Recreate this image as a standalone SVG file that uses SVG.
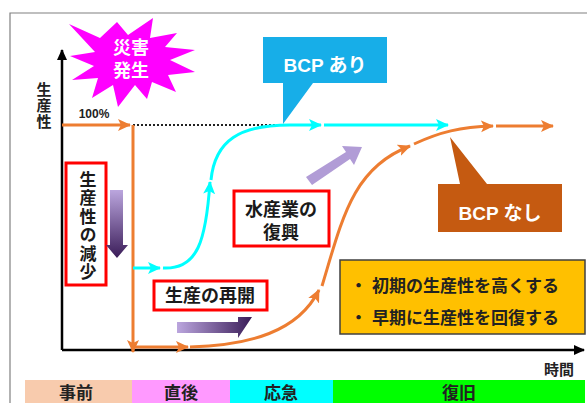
<svg xmlns="http://www.w3.org/2000/svg" width="587" height="403" viewBox="0 0 587 403">
<defs>
<style>
.t{font-family:"Liberation Sans","Noto Sans CJK JP",sans-serif;font-weight:bold;text-anchor:middle}
.lbl{font-size:18px;fill:#1a1a1a}
.v{font-family:"Liberation Sans","Noto Sans CJK JP",sans-serif;font-weight:bold;writing-mode:vertical-rl;text-orientation:upright}
.g{font-family:"Liberation Sans","Noto Sans CJK JP",sans-serif;font-weight:bold;font-size:17px;fill:#222}
.rbox{fill:#fff;stroke:#FF0000;stroke-width:3}
.or{fill:none;stroke:#ED7D31;stroke-width:3}
.cy{fill:none;stroke:#00FFFF;stroke-width:3}
</style>
<marker id="ao" markerUnits="userSpaceOnUse" markerWidth="14" markerHeight="14" refX="12" refY="7" orient="auto"><path d="M0,1 L13,7 L0,13 L3,7 Z" fill="#ED7D31"/></marker>
<marker id="ac" markerUnits="userSpaceOnUse" markerWidth="14" markerHeight="14" refX="12" refY="7" orient="auto"><path d="M0,1 L13,7 L0,13 L3,7 Z" fill="#00FFFF"/></marker>
<marker id="ak" markerUnits="userSpaceOnUse" markerWidth="12" markerHeight="12" refX="10" refY="6" orient="auto"><path d="M0,1 L11,6 L0,11 Z" fill="#000"/></marker>
<linearGradient id="gd" x1="0" y1="0" x2="0" y2="1"><stop offset="0" stop-color="#BBA6DE"/><stop offset="1" stop-color="#3A1C58"/></linearGradient>
<linearGradient id="gr" x1="0" y1="0" x2="1" y2="0"><stop offset="0" stop-color="#BBA6DE"/><stop offset="1" stop-color="#3A1C58"/></linearGradient>
</defs>
<rect width="587" height="403" fill="#fff"/>
<path d="M10,403 V13 H587" fill="none" stroke="#808080" stroke-width="1.2"/>

<g id="timeline">
<rect x="25" y="380" width="107" height="23" fill="#F8CBAD"/>
<rect x="132" y="380" width="98" height="23" fill="#FF99FF"/>
<rect x="230" y="380" width="103" height="23" fill="#00FFFF"/>
<rect x="333" y="380" width="252" height="23" fill="#00FF00"/>
<text class="t" x="76" y="399" font-size="17" fill="#222">事前</text>
<text class="t" x="181" y="399" font-size="17" fill="#222">直後</text>
<text class="t" x="281" y="399" font-size="17" fill="#222">応急</text>
<text class="t" x="459" y="399" font-size="17" fill="#222">復旧</text>
</g>

<g id="axes">
<path d="M62,350 V50" fill="none" stroke="#000" stroke-width="2.5" marker-end="url(#ak)"/>
<path d="M62,350 H584" fill="none" stroke="#000" stroke-width="2.5" marker-end="url(#ak)"/>
<text class="v" x="43" y="82" font-size="15" fill="#222" letter-spacing="1">生産性</text>
<text class="t" x="559" y="375" font-size="15" fill="#222">時間</text>
<text class="t" x="94" y="118" font-size="12" fill="#222">100%</text>
</g>

<g id="connectors">
<path d="M133,125 H283" fill="none" stroke="#222" stroke-width="2" stroke-dasharray="2,2"/>
<path class="or" d="M62,125 H130" marker-end="url(#ao)"/>
<path class="or" d="M133,125 V352" marker-end="url(#ao)"/>
<path class="or" d="M133,347 H188" marker-end="url(#ao)"/>
<path class="or" d="M190,347 C250,345 298,332 319,290" marker-end="url(#ao)"/>
<path class="or" d="M322,286 C342,220 352,168 410,146" marker-end="url(#ao)"/>
<path class="or" d="M414,144 C440,132 460,127 493,126" marker-end="url(#ao)"/>
<path class="or" d="M496,126 H553" marker-end="url(#ao)"/>
<path class="cy" d="M133,268 H160" marker-end="url(#ac)"/>
<path class="cy" d="M163,268 C198,270 206,240 210,182" marker-end="url(#ac)"/>
<path class="cy" d="M211,180 C215,140 240,125 290,125 H321" marker-end="url(#ac)"/>
<path class="cy" d="M324,125 H448" marker-end="url(#ac)"/>
</g>

<g id="disaster">
<polygon points="69,24 100,38 117,22 128,35 153,18 150,38 177,33 165,47 195,50 170,60 195,72 168,75 176,92 152,82 147,99 135,85 118,107 113,85 92,98 98,78 72,80 94,66 70,56 95,52" fill="#FF00FF"/>
<text class="t" x="131" y="54" font-size="18" fill="#fff">災害</text>
<text class="t" x="131" y="77" font-size="18" fill="#fff">発生</text>
</g>

<g id="bcp-ari">
<path d="M263,37 H387 V83 H313 L283,124 V83 H263 Z" fill="#17AEE8"/>
<text class="t" x="325" y="72" font-size="19" fill="#fff">BCP あり</text>
</g>

<g id="bcp-nashi">
<path d="M438,184 H460 L450,137 L487,184 H562 V232 H438 Z" fill="#C55A11"/>
<text class="t" x="500" y="220" font-size="19" fill="#fff">BCP なし</text>
</g>

<g id="decrease">
<rect class="rbox" x="66" y="163" width="40" height="122"/>
<text class="v" x="86" y="171" font-size="17" fill="#1a1a1a" letter-spacing="1.5">生産性の減少</text>
<path d="M110,190 H123 V245 H128 L117,258 L106,245 H110 Z" fill="url(#gd)"/>
</g>

<g id="restart">
<rect class="rbox" x="154" y="281" width="113" height="29"/>
<text class="t lbl" x="210" y="302">生産の再開</text>
<path d="M177,322 H238 V317 H252 L238,338 V333 H177 Z" fill="url(#gr)"/>
</g>

<g id="recovery">
<rect class="rbox" x="234" y="191" width="95" height="55"/>
<text class="t lbl" x="281" y="216">水産業の</text>
<text class="t lbl" x="281" y="239">復興</text>
<path d="M306,177 L346,152 L342,146 L362,147 L354,165 L350,159 L312,185 Z" fill="#B19CD6"/>
</g>

<g id="goals">
<rect x="340" y="260" width="245" height="74" fill="#FFC000" stroke="#404040" stroke-width="1.5"/>
<text class="g" x="350" y="292">・</text>
<text class="g" x="372" y="292">初期の生産性を高くする</text>
<text class="g" x="350" y="324">・</text>
<text class="g" x="372" y="324">早期に生産性を回復する</text>
</g>
</svg>
